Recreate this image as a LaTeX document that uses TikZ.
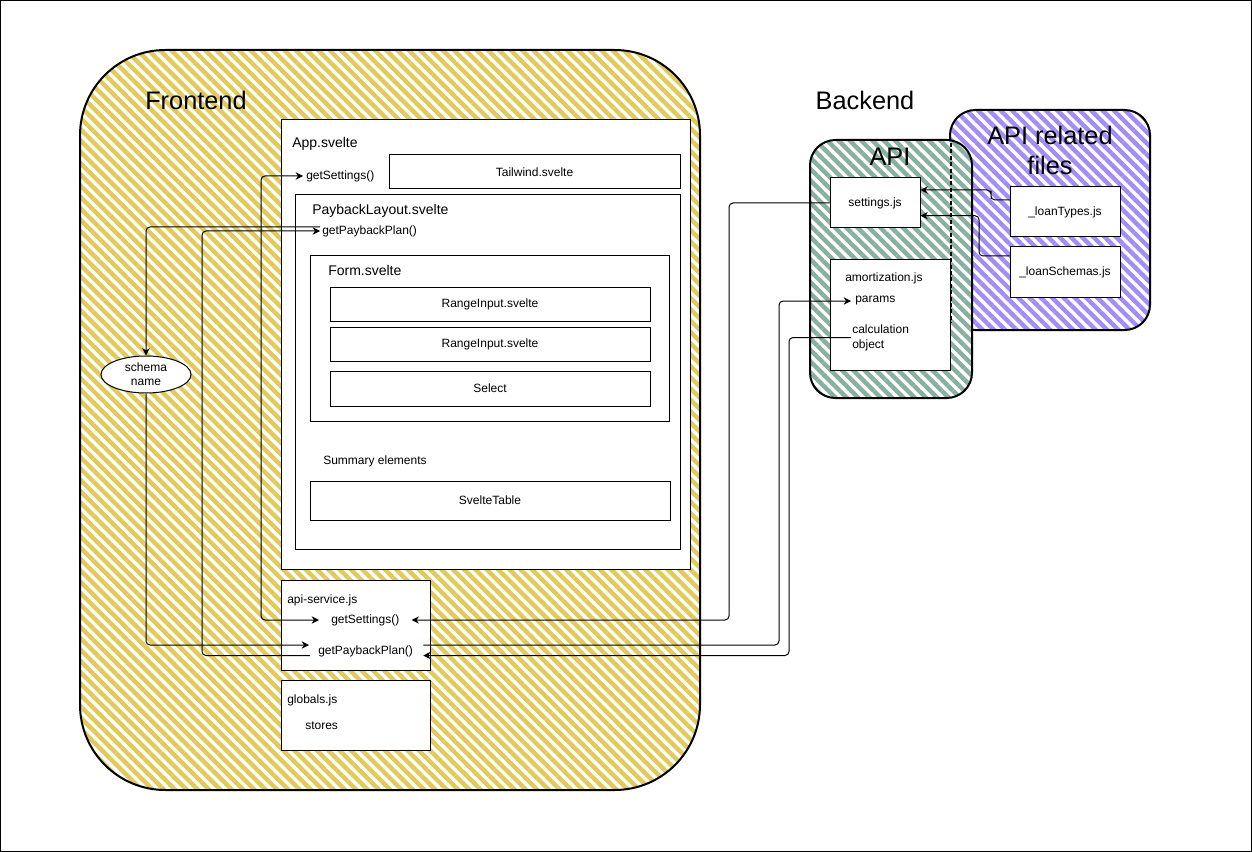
\documentclass[tikz,border=0pt]{standalone}
\usepackage{fontspec}
\setmainfont{Liberation Sans}
\usetikzlibrary{patterns.meta,fit,calc,arrows.meta,shapes.geometric}
\definecolor{fy}{RGB}{226,202,88}
\definecolor{fg}{RGB}{136,176,160}
\definecolor{fp}{RGB}{162,140,248}
\begin{document}
\begin{tikzpicture}[x=0.75pt,y=-0.75pt,
 box/.style={draw=black, line width=0.75pt, fill=white, inner sep=0pt},
 boxt/.style={box, label={[small]center:#1}},
 small/.style={font=\fontsize{9}{11.25}\selectfont, inner sep=0pt},
 title/.style={font=\fontsize{10.5}{12}\selectfont, inner sep=0pt},
 big/.style={font=\fontsize{19}{22.5}\selectfont, inner sep=0pt},
 conn/.style={draw=black, line width=0.75pt, rounded corners=3pt},
 tip/.style={-{Stealth[length=5.5pt,width=5.5pt]}},
 tips/.style={{Stealth[length=5.5pt,width=5.5pt]}-{Stealth[length=5.5pt,width=5.5pt]}},
 group/.style={draw=black, line width=1.5pt, inner sep=0pt, preaction={fill=white}},
 hatchY/.style={pattern={Lines[angle=-45,distance=6pt,line width=3.3pt]}, pattern color=fy},
 hatchG/.style={pattern={Lines[angle=-45,distance=6pt,line width=3.3pt]}, pattern color=fg},
 hatchP/.style={pattern={Lines[angle=-45,distance=6pt,line width=3.3pt]}, pattern color=fp},
]
\useasboundingbox (0,0) rectangle (1252,852);
\draw[line width=0.75pt] (0.5,0.5) rectangle (1251.5,851.5);

% ---------- Frontend ----------
\node[group, hatchY, rounded corners=64pt, fit={(80,50) (700,790)}] (frontend) {};
\node[big, anchor=west] (frontlbl) at (145,100) {Frontend};

\node[box, fit={(281,120) (690,569)}] (app) {};
\node[title, anchor=west] (applbl) at (292,144) {App.svelte};
\node[boxt=Tailwind.svelte, fit={(389,155) (680,189)}] (tailwind) {};
\node[small, anchor=west] (gs_app) at (306,176) {getSettings()};

\node[box, fit={(295,195) (680,549)}] (payback) {};
\node[title, anchor=west] (paylbl) at (312,211) {PaybackLayout.svelte};
\node[small, anchor=west] (gpp_pl) at (322,231) {getPaybackPlan()};

\node[box, fit={(310,256) (669,421)}] (form) {};
\node[title, anchor=west] (formlbl) at (328,270) {Form.svelte};
\node[boxt=RangeInput.svelte, fit={(330,287) (650,321)}] (range1) {};
\node[boxt=RangeInput.svelte, fit={(330,327) (650,361)}] (range2) {};
\node[boxt=Select, fit={(330,371) (650,406)}] (select) {};

\node[small, anchor=west] (summary) at (323,461) {Summary elements};
\node[boxt=SvelteTable, fit={(310,481) (670,520)}] (table) {};

\node[box, fit={(281,580) (430,670)}] (apisvc) {};
\node[small, anchor=west] (apisvclbl) at (287,600) {api-service.js};
\node[small, anchor=west] (gs_api) at (331,620) {getSettings()};
\node[small, anchor=west] (gpp_api) at (318,651) {getPaybackPlan()};

\node[box, fit={(281,680) (430,750)}] (globals) {};
\node[small, anchor=west] (globlbl) at (287,700) {globals.js};
\node[small, anchor=west] (stores) at (305,726) {stores};

\node[draw=black, line width=0.75pt, fill=white, ellipse, minimum width=67.5pt, minimum height=27.75pt,
      inner sep=0pt, align=center, font=\fontsize{9}{10.5}\selectfont] (schema) at (146,374.5) {schema\\name};

% ---------- Backend ----------
\node[big] (backlbl) at (865,100) {Backend};
\node[group, hatchP, rounded corners=19pt, fit={(950,110) (1150,330)}] (related) {};
\node[group, hatchG, rounded corners=19pt, fit={(810,140) (972,398)}] (api) {};
\draw[line width=1.6pt, dash pattern=on 3pt off 1.8pt] (951,143) -- (951,323);
\node[big] (apilbl) at (890,157) {API};
\node[big, align=center] (rellbl) at (1050,150) {API related\\files};

\node[boxt=settings.js, fit={(830,178) (920,228)}] (settings) {};
\node[box, fit={(830,260) (950,370)}] (amort) {};
\node[small, anchor=west] (amortlbl) at (845,278) {amortization.js};
\node[small, anchor=west] (params) at (855,301) {params};
\node[small, anchor=west, align=left] (calc) at (852,337.5) {calculation\\object};

\node[boxt=\_loanTypes.js, fit={(1010,187) (1120,237)}] (loantypes) {};
\node[boxt=\_loanSchemas.js, fit={(1010,247) (1120,297)}] (loanschemas) {};

% ---------- Connectors ----------
\draw[conn, tips] ($(gs_app.west)+(-3,0)$) -| (261,400) |- ($(gs_api.west)+(-12,0)$);
\draw[conn, tip] (settings.west) -| (729,400) |- ($(gs_api.east)+(12,0)$);
\draw[conn, tip] ($(gpp_pl.west)+(-2,-4)$) -| (schema.north);
\draw[conn, tip] (schema.south) |- ($(gpp_api.west)+(-9,-6)$);
\draw[conn, tip] ($(gpp_api.west)+(-8,4.5)$) -| (202,400) |- ($(gpp_pl.west)+(-2,0)$);
\draw[conn, tip] ($(gpp_api.east)+(10,-6)$) -| (779,400) |- ($(params.west)+(-4,0)$);
\draw[conn, tip] ($(calc.west)+(-1,0)$) -| (789,400) |- ($(gpp_api.east)+(10,4.5)$);
\draw[conn, tip] ($(loantypes.west)+(0,-12)$) -| (991,195) |- ($(settings.east)+(0,-13)$);
\draw[conn, tip] ($(loanschemas.west)+(0,-16)$) -| (979,235) |- ($(settings.east)+(0,12.7)$);
\end{tikzpicture}
\end{document}
